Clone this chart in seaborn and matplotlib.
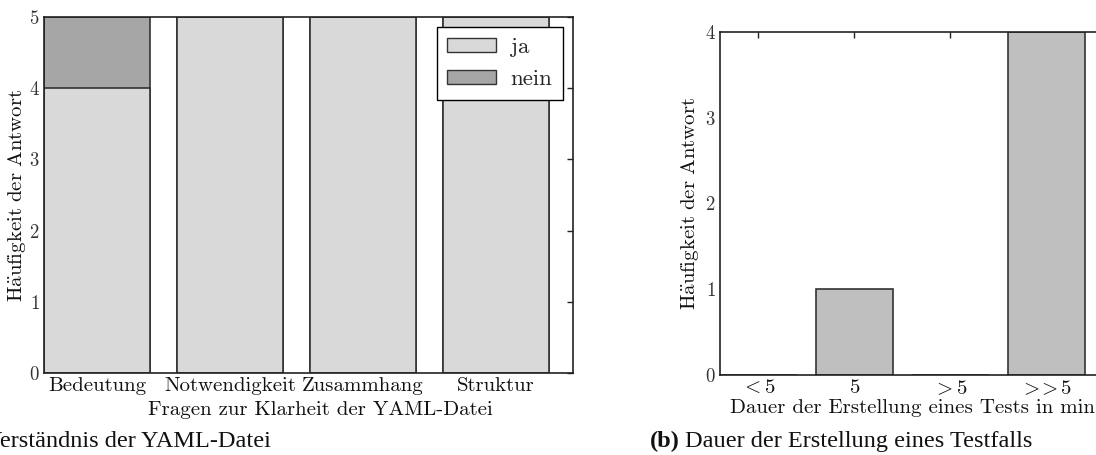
import matplotlib
matplotlib.use("Agg")
import matplotlib.pyplot as plt
from matplotlib.patches import Patch
import seaborn as sns

# data
questions = ["Bedeutung", "Notwendigkeit", "Zusammhang", "Struktur"]
ja = [4, 5, 5, 5]
nein = [1, 0, 0, 0]

durations = [r"$<5$", r"$5$", r"$>5$", r"$>\!\!>5$"]
counts = [0, 1, 0, 4]

ja_color = "#d9d9d9"
nein_color = "#a6a6a6"
dur_color = "#bfbfbf"
edge = "#333333"

sns.set_theme(style="white")
plt.rcParams["font.family"] = ["cmr10"]
plt.rcParams["mathtext.fontset"] = "cm"
plt.rcParams["axes.formatter.use_mathtext"] = True
plt.rcParams["axes.unicode_minus"] = False

W, H = 1096, 455
fig = plt.figure(figsize=(W / 100, H / 100), dpi=100)

def px_axes(x0, y0, x1, y1):
    return fig.add_axes([x0 / W, 1 - y1 / H, (x1 - x0) / W, (y1 - y0) / H])

ylab = r"$\mathrm{H\ddot{a}ufigkeit\ der\ Antwort}$"
fs = 15

def style(ax):
    for s in ax.spines.values():
        s.set_color("#222222")
        s.set_linewidth(1.2)
    ax.tick_params(direction="in", top=True, right=True, length=4, width=1,
                   color="#222222", labelsize=fs, pad=3, labelcolor="#111111")
    ax.tick_params(axis="y", labelsize=13.5, labelcolor="#333333")

# (a) stacked bars
ax1 = px_axes(44, 17, 573, 373)
total = [j + n for j, n in zip(ja, nein)]
sns.barplot(x=questions, y=total, color=nein_color, saturation=1, width=0.8,
            edgecolor=edge, linewidth=1.2, ax=ax1)
sns.barplot(x=questions, y=ja, color=ja_color, saturation=1, width=0.8,
            edgecolor=edge, linewidth=1.2, ax=ax1)
ax1.set_xlim(-0.4, 3.58)
ax1.set_ylim(0, 5)
ax1.set_yticks(range(6))
style(ax1)
ax1.set_ylabel(ylab, fontsize=fs, color="#111111")
ax1.set_xlabel("Fragen zur Klarheit der YAML-Datei", fontsize=fs, color="#111111")
ax1.yaxis.set_label_coords(-0.03, 0.5)
ax1.xaxis.set_label_coords(0.522, -0.079)
handles = [Patch(facecolor=ja_color, edgecolor=edge, label="ja"),
           Patch(facecolor=nein_color, edgecolor=edge, label="nein")]
leg = ax1.legend(handles=handles, loc="upper right", fontsize=16.5, frameon=True,
                 fancybox=False, edgecolor="black", framealpha=1,
                 handlelength=2.1, handleheight=0.6, handletextpad=0.65,
                 borderaxespad=0.45, labelspacing=0.55, borderpad=0.45)
leg.get_frame().set_linewidth(1.0)

# (b) duration bars
ax2 = px_axes(720, 32, 1104, 375)
sns.barplot(x=durations, y=counts, color=dur_color, saturation=1, width=0.8,
            edgecolor=edge, linewidth=1.2, ax=ax2)
ax2.set_xlim(-0.4, 3.6)
ax2.set_ylim(0, 4)
ax2.set_yticks(range(5))
style(ax2)
ax2.set_ylabel(ylab, fontsize=fs, color="#111111")
ax2.set_xlabel("Dauer der Erstellung eines Tests in min", fontsize=fs, color="#111111")
ax2.yaxis.set_label_coords(-0.05, 0.5)
ax2.xaxis.set_label_coords(0.5, -0.07)

# captions
cap = dict(family="Liberation Serif", fontsize=17.5, va="baseline", color="#111111")
fig.text(-50 / W, 1 - 447 / H, "(a)", fontweight="bold", **cap)
fig.text(-15 / W, 1 - 447 / H, "Verständnis der YAML-Datei", **cap)
fig.text(650 / W, 1 - 447 / H, "(b)", fontweight="bold", **cap)
fig.text(685 / W, 1 - 447 / H, "Dauer der Erstellung eines Testfalls", **cap)

fig.savefig("out.png", dpi=100)
